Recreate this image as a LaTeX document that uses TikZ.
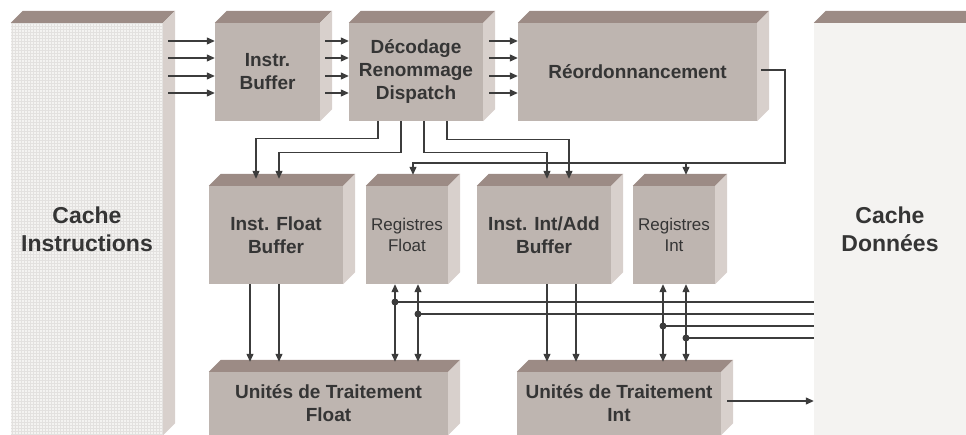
\documentclass[tikz,border=0pt]{standalone}
\usepackage{fontspec}
\setmainfont{Liberation Sans}
\usetikzlibrary{arrows.meta}

\definecolor{frontc}{HTML}{BEB5B0}
\definecolor{topc}{HTML}{9C8B85}
\definecolor{sidec}{HTML}{D8D0CC}
\definecolor{textc}{HTML}{353535}
\definecolor{linec}{HTML}{3C3C3C}
\definecolor{cachec}{HTML}{F4F3F1}
\definecolor{gridc}{HTML}{E3E1DF}

\tikzset{
  blk/.style={fill=frontc, text=textc, inner sep=0pt, align=center,
    font=\bfseries\fontsize{19}{23}\selectfont},
  reg/.style={blk, font=\fontsize{17}{21}\selectfont},
  cache/.style={fill=cachec, text=textc, inner sep=0pt, align=center,
    font=\bfseries\fontsize{23}{28}\selectfont},
  arr/.style={draw=linec, line width=1.2pt, -{Triangle[length=8pt,width=7pt]}},
  biarr/.style={arr, {Triangle[length=8pt,width=7pt]}-{Triangle[length=8pt,width=7pt]}},
  wire/.style={draw=linec, line width=1.2pt},
  dot/.style={circle, fill=linec, inner sep=0pt, minimum size=7pt},
}

% top and side faces of a block
\newcommand{\depthfaces}[1]{
  \fill[topc] (#1.north west) -- ++(12,-12) -- ([shift={(12,-12)}]#1.north east) -- (#1.north east) -- cycle;
  \fill[sidec] (#1.north east) -- ++(12,-12) -- ([shift={(12,-12)}]#1.south east) -- (#1.south east) -- cycle;
}

\begin{document}
\begin{tikzpicture}[x=1pt,y=-1pt]
    \useasboundingbox (0,0) rectangle (966,435);
    \clip (0,0) rectangle (966,435);

    % Caches
    \node[cache, minimum width=152pt, minimum height=412pt,
      path picture={\draw[gridc, line width=0.4pt, step=3pt]
        (path picture bounding box.south west) grid (path picture bounding box.north east);}]
      (ci) at (87,229) {Cache\\Instructions};
    \node[cache, minimum width=152pt, minimum height=412pt] (cd) at (890,229) {Cache\\Données};
    \depthfaces{ci}
    \depthfaces{cd}

    % Front end
    \node[blk, minimum width=105pt, minimum height=98pt] (ib) at (267.5,72) {Instr.\\Buffer};
    \node[blk, minimum width=134pt, minimum height=98pt] (dec) at (416,72) {Décodage\\Renommage\\Dispatch};
    \node[blk, minimum width=239pt, minimum height=98pt] (reo) at (637.5,72) {Réordonnancement};

    % Buffers and registers
    \node[blk, minimum width=134pt, minimum height=98pt] (ifb) at (276,235) {Inst. Float\\Buffer};
    \node[reg, minimum width=82pt, minimum height=98pt] (rf) at (407,235) {Registres\\Float};
    \node[blk, minimum width=134pt, minimum height=98pt] (iib) at (544,235) {Inst. Int/Add\\Buffer};
    \node[reg, minimum width=82pt, minimum height=98pt] (ri) at (674,235) {Registres\\Int};

    % Execution units
    \node[blk, minimum width=239pt, minimum height=63pt] (uf) at (328.5,403.5) {Unités de Traitement\\Float};
    \node[blk, minimum width=204pt, minimum height=63pt] (ui) at (619,403.5) {Unités de Traitement\\Int};

    \foreach \b in {ib,dec,reo,ifb,rf,iib,ri,uf,ui} {
        \depthfaces{\b}
    }

    % arrow ends on the top faces
    \coordinate (ifb-t) at ([yshift=7pt]ifb.north);
    \coordinate (iib-t) at ([yshift=7pt]iib.north);
    \coordinate (rf-t) at ([yshift=11pt]rf.north);
    \coordinate (ri-t) at ([yshift=11pt]ri.north);
    \coordinate (uf-t) at ([yshift=10pt]uf.north);
    \coordinate (ui-t) at ([yshift=10pt]ui.north);

    % Fetch
    \foreach \y in {41,58,76,93} {
        \draw[arr] (ci.east |- 0,\y) ++(5,0) -- (ib.west |- 0,\y);
        \draw[arr] (ib.east |- 0,\y) ++(5,0) -- (dec.west |- 0,\y);
        \draw[arr] (dec.east |- 0,\y) ++(6,0) -- (reo.west |- 0,\y);
    }

    % Dispatch
    \draw[arr] (dec.south -| 378,0) -- ++(0,17) -| (ifb-t -| 256,0);
    \draw[arr] (dec.south -| 401,0) -- ++(0,31) -| (ifb-t -| 279,0);
    \draw[arr] (dec.south -| 424,0) -- ++(0,31) -| (iib-t -| 547,0);
    \draw[arr] (dec.south -| 447,0) -- ++(0,18) -| (iib-t -| 569,0);

    % Retire
    \draw[arr] (reo.east) ++(4,-2) -| (785,163) coordinate (rbus) -| (rf-t -| 413,0);
    \draw[arr] (rbus -| 686,0) -- (ri-t -| 686,0);

    % Issue
    \foreach \x in {250,279} \draw[arr] (ifb.south -| \x,0) -- (uf-t -| \x,0);
    \foreach \x in {547,576} \draw[arr] (iib.south -| \x,0) -- (ui-t -| \x,0);
    \foreach \x in {395,418} \draw[biarr] (rf.south -| \x,0) -- (uf-t -| \x,0);
    \foreach \x in {663,686} \draw[biarr] (ri.south -| \x,0) -- (ui-t -| \x,0);

    % Data bus
    \node[dot] (d1) at (395,302) {};
    \node[dot] (d2) at (418,314) {};
    \node[dot] (d3) at (663,326) {};
    \node[dot] (d4) at (686,338) {};
    \foreach \d in {d1,d2,d3,d4} \draw[wire] (\d.center) -- (cd.west |- \d.center);
    \draw[arr] (ui.east) ++(6,-2.5) -- (cd.west |- 0,401);
\end{tikzpicture}
\end{document}
